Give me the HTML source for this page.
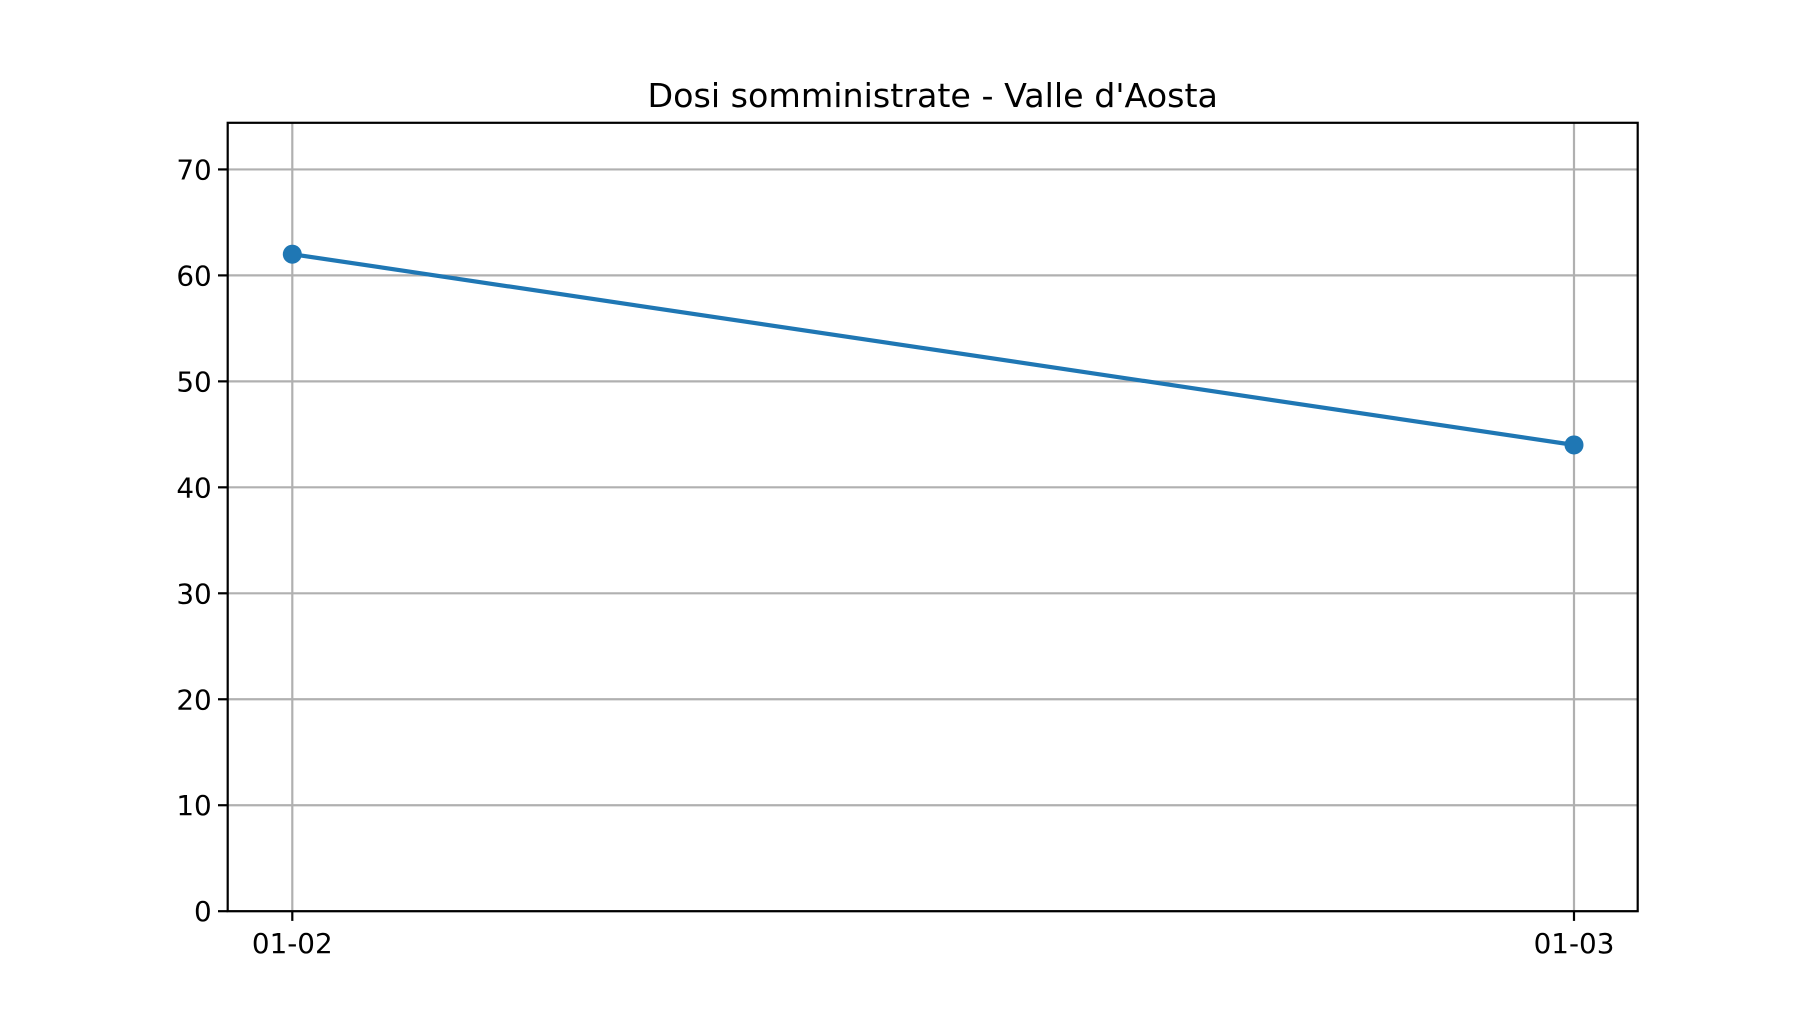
<!DOCTYPE html>
<html><head><meta charset="utf-8"><style>
html,body{margin:0;padding:0;background:#fff;}
svg{display:block;font-family:"DejaVu Sans","Liberation Sans",sans-serif;}
</style></head><body>
<svg id="chart" width="1820" height="1024" viewBox="0 0 1820 1024" xmlns="http://www.w3.org/2000/svg">
<rect width="1820" height="1024" fill="#fff"/>
<text x="932.7" y="107" font-size="33.3" text-anchor="middle" fill="#000">Dosi somministrate - Valle d'Aosta</text>
<g id="grid"></g><g id="axes"></g><g id="series"></g>
</svg>
<script>
const categories = ["01-02", "01-03"];
const values = [62, 44];
const yTicks = [0, 10, 20, 30, 40, 50, 60, 70];
const L=227.7,R=1637.7,T=122.8,B=911.2;
const yMax=74.4;
const ns="http://www.w3.org/2000/svg";
function xs(i){const x0=292.3,x1=1574;return x0+(x1-x0)*i/(categories.length-1);}
function ys(v){return B-(B-T)*v/yMax;}
function mk(tag,attrs,parent,txt){const e=document.createElementNS(ns,tag);for(const k in attrs)e.setAttribute(k,attrs[k]);if(txt!==undefined)e.textContent=txt;document.getElementById(parent).appendChild(e);return e;}
yTicks.forEach(v=>{const y=ys(v);
 const g=mk('line',{x1:L,x2:R,y1:y,y2:y,stroke:'#b0b0b0','stroke-width':2.2},'grid');
 
 
 const t=mk('line',{x1:L-9.7,x2:L,y1:y,y2:y,stroke:'#000','stroke-width':2.2},'axes');
 
 
 const l=mk('text',{x:L-16,y:y+10,'font-size':27.8,'text-anchor':'end',fill:'#000'},'axes',String(v));
 
 
});
categories.forEach((c,i)=>{const x=xs(i);
 const g=mk('line',{x1:x,x2:x,y1:T,y2:B,stroke:'#b0b0b0','stroke-width':2.2},'grid');
 
 
 const t=mk('line',{x1:x,x2:x,y1:B,y2:B+9.7,stroke:'#000','stroke-width':2.2},'axes');
 
 
 const l=mk('text',{x:x,y:953.2,'font-size':27.8,'text-anchor':'middle',fill:'#000'},'axes',c);
 
 
});
const frame=mk('rect',{x:L,y:T,width:R-L,height:B-T,fill:'none',stroke:'#000','stroke-width':2.2},'axes');


const pts=values.map((v,i)=>xs(i)+','+ys(v)).join(' ');
const line=mk('polyline',{points:pts,fill:'none',stroke:'#1f77b4','stroke-width':4.2,'stroke-linejoin':'round','stroke-linecap':'square'},'series');


values.forEach((v,i)=>{
 const c=mk('circle',{cx:xs(i),cy:ys(v),r:9.5,fill:'#1f77b4'},'series');
 
 
});
</script>
</body></html>
